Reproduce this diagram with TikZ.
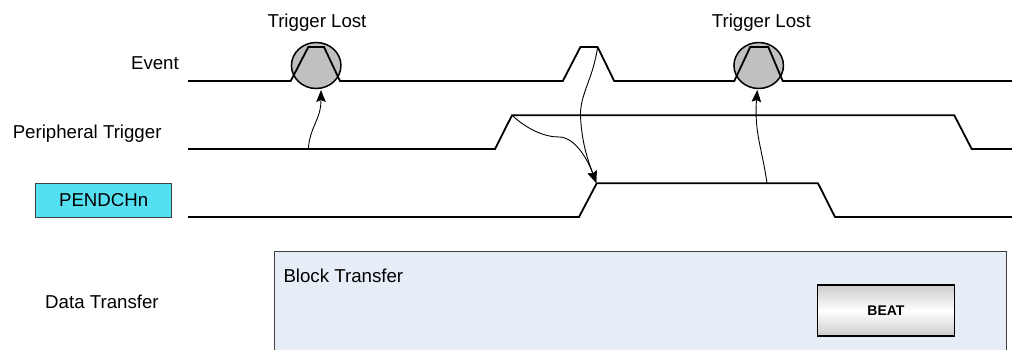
\documentclass[tikz,border=0pt]{standalone}
\usepackage{fontspec}
\setmainfont{Liberation Sans}
\usetikzlibrary{arrows.meta,shapes.geometric}
\definecolor{pendcyan}{HTML}{55E0F2}
\definecolor{blkblue}{HTML}{E6EDF7}
\definecolor{lostgray}{HTML}{C0C0C0}
\definecolor{edgegray}{HTML}{404040}
\begin{document}
\begin{tikzpicture}[x=1pt,y=-1pt,
  sig/.style={line width=1.8pt, line join=miter},
  conn/.style={line width=0.9pt, -{Stealth[length=12pt,width=9.5pt,inset=2pt]}},
  lbl/.style={inner sep=0pt, font=\fontsize{18.67}{22}\selectfont},
  lostc/.style={ellipse, draw=black, line width=1.5pt, fill=lostgray, minimum width=49.5pt, minimum height=46pt, inner sep=0pt, outer sep=0pt},
  pbox/.style={draw=edgegray, line width=1pt, fill=pendcyan, inner sep=0pt, font=\fontsize{18.67}{22}\selectfont},
  blkbox/.style={draw=edgegray, line width=1pt, fill=blkblue, inner sep=0pt},
  beatbox/.style={draw=black, line width=1.5pt, top color=black!20, bottom color=black!20, middle color=white, inner sep=0pt, font=\bfseries\fontsize{14}{16}\selectfont}
]
\clip (0,0) rectangle (1012,350);
\fill[white] (0,0) rectangle (1012,350);

% labels
\node[lbl, anchor=base east] (lev) at (179,70) {Event};
\node[lbl, anchor=base east] (lpt) at (161.7,139) {Peripheral Trigger};
\node[lbl, anchor=base west] (ldt) at (45,308.3) {Data Transfer};
\node[lbl, anchor=base] (tl1) at (317,27.7) {Trigger Lost};
\node[lbl, anchor=base] (tl2) at (761.3,27.7) {Trigger Lost};
\node[pbox, minimum width=136pt, minimum height=34pt] (pend) at (103.7,200.3) {PENDCHn};

% data transfer boxes
\node[blkbox, anchor=north west, minimum width=731.7pt, minimum height=130pt] (blk) at (274,251) {};
\node[lbl, anchor=base west] (blkl) at (283.3,282.7) {Block Transfer};
\node[beatbox, minimum width=136.6pt, minimum height=51pt] (beat) at (886,310.5) {BEAT};

% trigger lost circles
\node[lostc] (c1) at (316.2,65.5) {};
\node[lostc] (c2) at (758.7,65.5) {};

% signals
\draw[sig] (188,81) -- (290.7,81) -- (308.3,47) -- (324,47) -- (340,81)
  -- (562.8,81) -- (580.4,47) -- (597.6,47) -- (614.2,81)
  -- (734.3,81) -- (750.2,47) -- (768.3,47) -- (782.7,81) -- (1012,81);
\draw[sig] (188,149) -- (495,149) -- (512,115.3) -- (954.3,115.3) -- (971.7,149) -- (1012,149);
\draw[sig] (188,217) -- (579,217) -- (596.7,183.3) -- (818,183.3) -- (835,217) -- (1012,217);

% connector anchor points
\coordinate (s1) at (308.3,149);
\coordinate (t1) at (321,90);
\coordinate (s2) at (597.6,47);
\coordinate (m2) at (580.6,118);
\coordinate (t23) at (596.2,183);
\coordinate (s3) at (512,115.3);
\coordinate (m3) at (559,137);
\coordinate (s4) at (767,183.3);
\coordinate (t4) at (757.3,90);

\draw[conn] (s1) .. controls (310,126) and (321,120) .. (t1);
\draw[conn] (s2) .. controls (593,80) and (579,95) .. (m2) .. controls (582,145) and (589,163) .. (t23);
\draw[conn] (s3) .. controls (528,130) and (545,137) .. (m3) .. controls (575,137) and (588,160) .. (t23);
\draw[conn] (s4) .. controls (762,148) and (754,132) .. (t4);
\end{tikzpicture}
\end{document}
